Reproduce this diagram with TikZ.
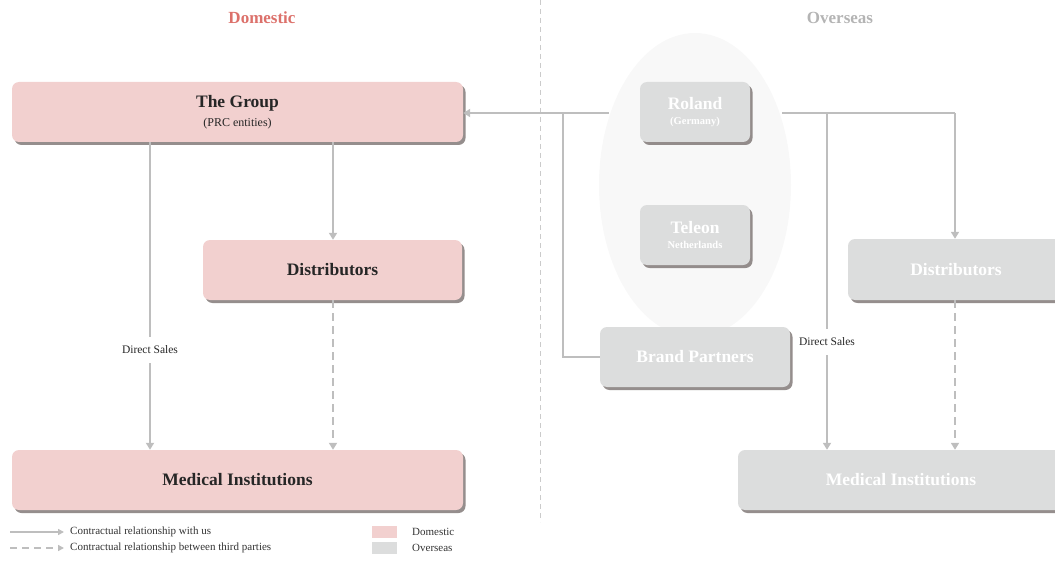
\documentclass[tikz,border=0pt]{standalone}
\usepackage{fontspec}
\setmainfont{Liberation Serif}
\usetikzlibrary{arrows.meta,shadows}
\definecolor{pinkfill}{HTML}{F2D0CF}
\definecolor{grayfill}{HTML}{DCDDDD}
\definecolor{linegray}{HTML}{BEBEBE}
\definecolor{domred}{HTML}{DC716B}
\definecolor{ovgray}{HTML}{B4B4B4}
\definecolor{shadowc}{HTML}{7A7270}
\definecolor{ellfill}{HTML}{F8F8F8}
\tikzset{
  box/.style={rounded corners=7pt, minimum height=60pt, inner sep=0pt, align=center,
    drop shadow={shadow xshift=2.5pt, shadow yshift=-3pt, fill=shadowc, opacity=0.8}},
  dombox/.style={box, fill=pinkfill, text=black!85},
  ovbox/.style={box, fill=grayfill, text=white},
  conn/.style={draw=linegray, line width=1.7pt},
  arr/.style={conn, -{Triangle[length=7pt,width=8pt]}},
  darr/.style={arr, dash pattern=on 8pt off 5pt},
  lbl/.style={fill=white, inner xsep=3pt, inner ysep=9pt, font=\fontsize{11.5}{13}\selectfont, text=black!85},
  title/.style={font=\fontsize{17}{19}\selectfont\bfseries},
  legtext/.style={anchor=west, font=\fontsize{11}{13}\selectfont, text=black!80, inner sep=0pt}
}
\newcommand{\bigt}{\fontsize{17.5}{20}\selectfont\bfseries}
\begin{document}
\begin{tikzpicture}[x=1pt,y=-1pt]
\useasboundingbox (0,0) rectangle (1055,583);
\clip (0,0) rectangle (1055,583);
% divider
\draw[linegray!80, line width=1pt, dash pattern=on 5pt off 4pt] (540,0) -- (540,522);
% titles
\node[title, text=domred] (tdom) at (262,18) {Domestic};
\node[title, text=ovgray] (tov) at (840,18) {Overseas};
% ellipse
\fill[ellfill] (695,185) ellipse [x radius=96, y radius=152];
% domestic boxes
\node[dombox, minimum width=451pt] (group) at (237.5,112) {\raisebox{-3pt}{\bigt The Group}\\[6pt]{\fontsize{12}{13}\selectfont (PRC entities)}};
\node[dombox, minimum width=259pt] (ddist) at (332.5,270) {\bigt Distributors};
\node[dombox, minimum width=451pt] (dmed) at (237.5,480) {\bigt Medical Institutions};
% overseas boxes
\node[ovbox, minimum width=110pt] (roland) at (695,112) {{\bigt Roland}\\[3pt]{\fontsize{10.5}{12}\selectfont\bfseries (Germany)}};
\node[ovbox, minimum width=110pt] (teleon) at (695,235) {{\bigt Teleon}\\[3pt]{\fontsize{10.5}{12}\selectfont\bfseries Netherlands}};
\node[ovbox, minimum width=190pt] (brand) at (695,357) {\bigt Brand Partners};
\node[ovbox, minimum width=216pt, minimum height=61pt] (odist) at (956,269.5) {\bigt Distributors};
\node[ovbox, minimum width=326pt] (omed) at (901,480) {\bigt Medical Institutions};
% coordinates
\coordinate (rl) at (609,113);
\coordinate (rr) at (782,113);
\coordinate (j1) at (563,113);
\coordinate (j2) at (563,357);
\coordinate (k1) at (827,113);
\coordinate (k2) at (955,113);
% domestic connectors
\draw[arr] (group.south -| 150,0) -- node[lbl, pos=0.675] (ds1) {Direct Sales} (dmed.north -| 150,0);
\draw[arr] (group.south -| 333,0) -- (ddist.north -| 333,0);
\draw[darr] (ddist.south -| 333,0) -- (dmed.north -| 333,0);
% overseas connectors
\draw[arr] (rl) -- (group.east |- rl);
\draw[conn] (brand.west) -- (j2) -- (j1);
\draw[conn] (rr) -- (k2);
\draw[arr] (k2) -- (odist.north -| k2);
\draw[arr] (k1) -- node[lbl, pos=0.68] (ds2) {Direct Sales} (omed.north -| k1);
\draw[darr] (odist.south -| k2) -- (omed.north -| k2);
% legend
\coordinate (l1a) at (10,532); \coordinate (l1b) at (64,532);
\coordinate (l2a) at (10,548); \coordinate (l2b) at (64,548);
\draw[conn, line width=1.5pt, -{Triangle[length=6pt,width=6pt]}] (l1a) -- (l1b);
\draw[conn, line width=1.5pt, dash pattern=on 7pt off 5pt, -{Triangle[length=6pt,width=6pt]}] (l2a) -- (l2b);
\node[legtext] (lt1) at (70,532) {Contractual relationship with us};
\node[legtext] (lt2) at (70,548) {Contractual relationship between third parties};
\fill[pinkfill] (372,526) rectangle (397,538);
\fill[grayfill] (372,542) rectangle (397,554);
\node[legtext] (lt3) at (412,532) {Domestic};
\node[legtext] (lt4) at (412,548) {Overseas};
\end{tikzpicture}
\end{document}
